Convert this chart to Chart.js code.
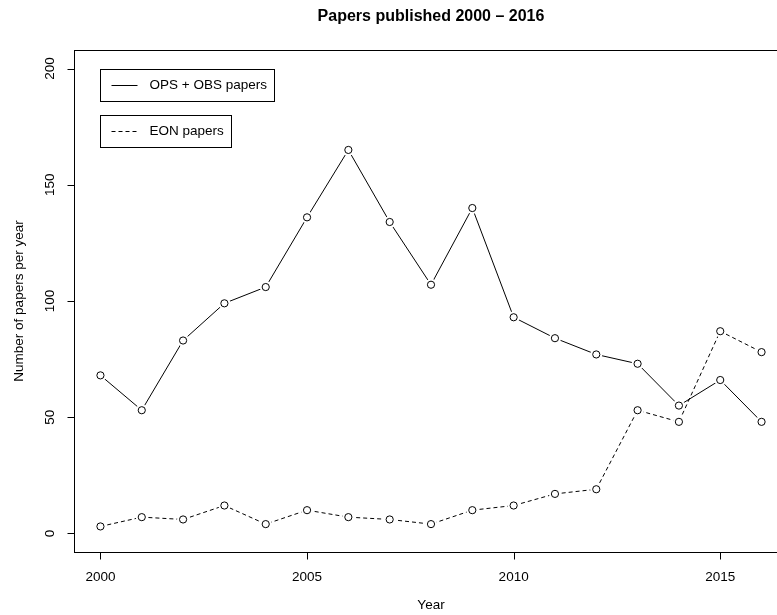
<!DOCTYPE html>
<html>
<head>
<meta charset="utf-8">
<script src="https://cdn.jsdelivr.net/npm/chart.js@4/dist/chart.umd.min.js"></script>
<style>
  html, body { margin: 0; padding: 0; background: #fff; overflow: hidden; width: 777px; height: 615px; }
  #wrap { width: 800px; height: 615px; }
</style>
</head>
<body>
<div id="wrap"><canvas id="chart" width="800" height="615"></canvas></div>
<script>
// Publications per year
const years  = [2000, 2001, 2002, 2003, 2004, 2005, 2006, 2007, 2008, 2009, 2010, 2011, 2012, 2013, 2014, 2015, 2016];
const opsObs = [68, 53, 83, 99, 106, 136, 165, 134, 107, 140, 93, 84, 77, 73, 55, 66, 48];
const eon    = [3, 7, 6, 12, 4, 10, 7, 6, 4, 10, 12, 17, 19, 53, 48, 87, 78];

const xTicks = [2000, 2005, 2010, 2015];
const yTicks = [0, 50, 100, 150, 200];

const titleText  = 'Papers published 2000 \u2013 2016';
const xTitleText = 'Year';
const yTitleText = 'Number of papers per year';
const legendItems = [
  { label: 'OPS + OBS papers', dash: [], x: 2000, y: 200 },
  { label: 'EON papers', dash: [4, 3], x: 2000, y: 180 }
];

const FONT = '"Liberation Sans", Arial, Helvetica, sans-serif';

const pts = vals => years.map((yr, i) => ({ x: yr, y: vals[i] }));

function lineSet(vals, dash) {
  return { data: pts(vals), borderColor: '#000', borderWidth: 1, borderDash: dash,
           pointRadius: 0, fill: false, tension: 0, order: 3 };
}
function maskSet(vals) {
  return { data: pts(vals), showLine: false, pointRadius: 6, pointBorderWidth: 0,
           pointBackgroundColor: '#fff', pointBorderColor: '#fff', order: 2 };
}
function pointSet(vals) {
  return { data: pts(vals), showLine: false, pointRadius: 3.6, pointBorderWidth: 1,
           pointBackgroundColor: 'rgba(0,0,0,0)', pointBorderColor: '#000', order: 1 };
}

// Frame, axes, text and legend in base-graphics style
const framePlugin = {
  id: 'frame',
  afterDraw(chart) {
    const { ctx, chartArea: a, scales: { x, y } } = chart;
    ctx.save();
    ctx.strokeStyle = '#000';
    ctx.lineWidth = 1;
    ctx.setLineDash([]);
    const L = Math.round(a.left) + 0.5, R = Math.round(a.right) + 0.5;
    const T = Math.round(a.top) + 0.5, B = Math.round(a.bottom) + 0.5;
    ctx.strokeRect(L, T, R - L, B - T);

    // bottom axis
    ctx.beginPath();
    ctx.moveTo(Math.round(x.getPixelForValue(xTicks[0])) + 0.5, B);
    ctx.lineTo(Math.round(x.getPixelForValue(xTicks[xTicks.length - 1])) + 0.5, B);
    xTicks.forEach(v => {
      const px = Math.round(x.getPixelForValue(v)) + 0.5;
      ctx.moveTo(px, B);
      ctx.lineTo(px, B + 7);
    });
    // left axis
    ctx.moveTo(L, Math.round(y.getPixelForValue(yTicks[0])) + 0.5);
    ctx.lineTo(L, Math.round(y.getPixelForValue(yTicks[yTicks.length - 1])) + 0.5);
    yTicks.forEach(v => {
      const py = Math.round(y.getPixelForValue(v)) + 0.5;
      ctx.moveTo(L, py);
      ctx.lineTo(L - 7, py);
    });
    ctx.stroke();

    ctx.fillStyle = '#000';
    ctx.font = '13.5px ' + FONT;
    ctx.textAlign = 'center';
    ctx.textBaseline = 'middle';
    xTicks.forEach(v => ctx.fillText(String(v), x.getPixelForValue(v), a.bottom + 25));
    ctx.fillText(xTitleText, (a.left + a.right) / 2, a.bottom + 53);

    yTicks.forEach(v => {
      ctx.save();
      ctx.translate(a.left - 24, y.getPixelForValue(v));
      ctx.rotate(-Math.PI / 2);
      ctx.fillText(String(v), 0, 0);
      ctx.restore();
    });
    ctx.save();
    ctx.translate(a.left - 55, (a.top + a.bottom) / 2);
    ctx.rotate(-Math.PI / 2);
    ctx.fillText(yTitleText, 0, 0);
    ctx.restore();

    ctx.font = 'bold 16px ' + FONT;
    ctx.fillText(titleText, (a.left + a.right) / 2, 17);

    // legend boxes
    ctx.font = '13.5px ' + FONT;
    ctx.textAlign = 'left';
    legendItems.forEach(it => {
      const bx = Math.round(x.getPixelForValue(it.x)) + 0.5;
      const by = Math.round(y.getPixelForValue(it.y)) + 0.5;
      const tw = ctx.measureText(it.label).width;
      const w = Math.round(49 + tw + 8), h = 32;
      ctx.setLineDash([]);
      ctx.strokeRect(bx, by, w, h);
      ctx.beginPath();
      ctx.setLineDash(it.dash);
      ctx.moveTo(bx + 11, by + h / 2);
      ctx.lineTo(bx + 37, by + h / 2);
      ctx.stroke();
      ctx.fillText(it.label, bx + 49, by + h / 2);
    });
    ctx.restore();
  }
};

new Chart(document.getElementById('chart'), {
  type: 'line',
  data: {
    datasets: [
      lineSet(opsObs, []), lineSet(eon, [4, 3]),
      maskSet(opsObs), maskSet(eon),
      pointSet(opsObs), pointSet(eon)
    ]
  },
  options: {
    responsive: false,
    animation: false,
    events: [],
    layout: { padding: { left: 74, top: 50, right: 12, bottom: 63 } },
    plugins: { legend: { display: false }, tooltip: { enabled: false }, title: { display: false } },
    scales: {
      x: { type: 'linear', display: false, min: 1999.36, max: 2016.64 },
      y: { type: 'linear', display: false, min: -8, max: 208 }
    }
  },
  plugins: [framePlugin]
});
</script>
</body>
</html>
